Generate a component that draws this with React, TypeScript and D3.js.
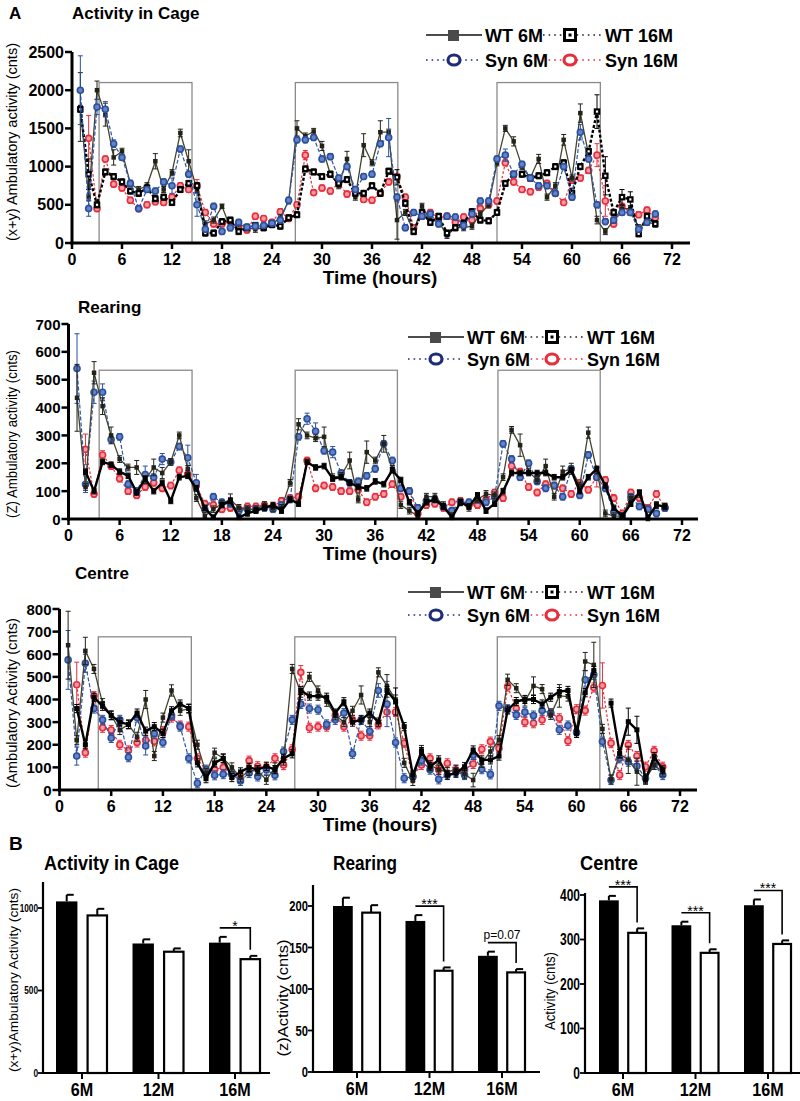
import React from "react";
import * as d3 from "d3";

const FONT = "'Liberation Sans', Arial, Helvetica, sans-serif";
const NARROW = "'Liberation Sans Narrow', 'Liberation Sans', Arial, sans-serif";

const HOURS: number[] = d3.range(1, 71);
const X_TICKS = [0, 6, 12, 18, 24, 30, 36, 42, 48, 54, 60, 66, 72];
const SERIES_NAMES = ["WT 6M", "WT 16M", "Syn 6M", "Syn 16M"];

type V = number | null;

// ---------- Panel A1: Activity in Cage ----------
const cageWT6: V[] = [1780,600,2000,1680,1120,1200,780,700,750,1070, 700,920,1440,1070,700,250,300,480,200,250, 200,180,200,250,330,550,1500,1400,1460,1270, 900,750,1100,600,1280,1050,1450,1450,300,400, 150,480,300,280,100,200,200,220,380,500, 1050,1500,1330,1000,850,1100,600,750,1350,850, 1700,1150,300,150,300,450,450,200,270,250];
const cageWT16: V[] = [1750,900,500,930,870,800,680,650,720,580, 600,530,700,780,750,130,130,280,300,150, 200,230,200,240,220,330,370,970,930,870, 900,780,830,650,650,750,650,940,860,520, 150,400,270,350,130,200,260,410,300,290, 400,780,900,900,850,880,920,1000,1050,650, 1000,1200,1720,880,400,600,570,120,350,250];
const cageSyn6: V[] = [2000,450,1780,1750,1300,1120,780,450,700,680, 800,750,1230,900,500,180,480,150,200,270, 210,220,230,260,300,560,1350,1350,1380,1100, 1130,850,1000,700,870,900,1300,1380,600,200, 400,350,380,250,350,340,230,380,550,550, 1100,1150,900,1030,850,750,750,650,1000,600, 1450,1100,500,280,300,400,400,180,270,380];
const cageSyn16: V[] = [null,1370,450,1100,770,720,560,450,500,540, 530,600,750,700,750,400,250,250,280,200, 170,350,320,270,410,320,500,1150,660,720, 680,780,640,700,570,560,650,800,870,600, 200,350,400,330,350,270,340,300,450,500, 550,1050,800,700,670,730,780,650,530,820, 850,950,1150,550,250,480,400,370,430,330];
const cageErrWT6: Record<number, number> = {1:450,3:120,4:150,5:100,10:100,13:50,14:150,18:30,27:100,30:60,33:100,35:150,37:150,39:250,53:60,56:60,59:70,61:120,62:80,63:50};
const cageErrWT16: Record<number, number> = {2:200,39:100,63:220,64:250,66:100,67:100};
const cageErrSyn6: Record<number, number> = {1:450,2:100,3:100,4:100,5:50,12:100,15:150,38:250,52:80,61:100};
const cageErrSyn16: Record<number, number> = {2:300,15:80,28:60,63:150,64:200};
const cageBoxes = [[3.25, 14.4], [26.8, 39.1], [51, 63.4]];
const cageBoxTop = 2100;

// ---------- Panel A2: Rearing ----------
const rearWT6: V[] = [435,115,525,405,300,215,185,185,140,185, 165,205,300,180,75,10,35,55,70,40, 35,35,50,40,40,130,340,300,290,295, 150,155,210,70,240,210,270,180,50,30, 10,80,80,50,10,60,40,70,90,85, 150,320,265,170,140,190,80,170,180,120, 310,175,20,10,10,75,90,0,50,45];
const rearWT16: V[] = [null,170,100,205,195,170,155,95,145,100, 130,65,150,155,110,40,5,50,65,5, 20,30,40,50,30,70,55,205,185,190, 145,150,130,115,110,135,125,175,140,60, 20,60,70,45,5,60,45,85,30,55, 100,165,165,165,165,165,150,150,175,100, 150,180,120,40,10,55,95,5,50,45];
const rearSyn6: V[] = [540,125,455,455,285,295,125,100,160,150, 215,205,260,220,130,35,80,60,55,30, 35,35,40,35,50,70,295,360,315,245, 240,165,130,135,155,180,270,210,110,100, 40,65,70,45,30,60,60,70,60,80, 270,215,150,200,135,110,120,80,180,85, 230,150,110,25,10,80,45,35,20,40];
const rearSyn16: V[] = [null,250,90,230,190,145,100,85,115,130, 110,120,175,160,120,55,50,35,40,35, 45,45,50,45,65,75,80,210,110,120, 115,100,100,105,60,80,90,125,80,100, 20,50,55,40,60,65,50,50,70,95, 75,190,170,115,95,125,120,110,90,130, 105,150,140,75,20,95,75,40,90,40];
const rearErrWT6: Record<number, number> = {1:120,3:40,4:30,5:30,8:25,10:30,11:20,19:20,27:20,30:35,33:30,35:40,37:30,53:40,56:25,58:20,59:20,61:20};
const rearErrWT16: Record<number, number> = {};
const rearErrSyn6: Record<number, number> = {1:125,2:30,3:40,4:30,9:30,11:20,14:45,15:30,28:20,29:30,31:20};
const rearErrSyn16: Record<number, number> = {2:55,4:15,62:35};
const rearBoxes = [[3.6, 14.5], [26.6, 38.6], [50.4, 62.4]];
const rearBoxTop = 534;

// ---------- Panel A3: Centre ----------
const centWT6: V[] = [640,220,615,535,384,330,265,290,235,400, 150,320,440,350,360,200,75,165,140,100, 55,85,85,45,100,130,535,430,500,440, 390,330,300,350,420,300,520,460,400,120, 40,177,110,90,80,90,70,44,120,170, 221,487,450,391,460,446,332,416,413,266, 568,553,270,47,159,133,81,47,111,81];
const centWT16: V[] = [null,360,200,410,370,330,300,290,340,260, 280,250,350,380,360,120,50,120,140,55, 80,100,90,105,90,140,160,440,415,415, 410,340,390,300,310,340,300,440,391,280, 66,170,103,133,66,74,103,177,133,133, 150,354,391,400,400,380,410,435,440,250, 430,528,null,384,162,302,266,44,148,89];
const centSyn6: V[] = [575,150,560,360,310,230,310,145,320,195, 250,210,330,280,140,30,90,65,70,70, 40,75,60,90,65,170,310,380,360,355, 290,310,340,160,310,260,440,380,210,52, 60,130,90,47,66,80,66,155,92,69, 372,357,332,344,329,351,340,266,285,254, 487,509,214,44,140,125,106,52,111,66];
const centSyn16: V[] = [null,465,165,415,275,265,200,175,210,220, 215,260,320,285,280,140,85,90,100,70, 50,130,105,100,140,110,180,520,275,280, 280,330,280,310,240,240,290,345,345,207, 59,111,140,89,118,89,89,115,180,214, 184,457,360,300,295,310,340,317,217,357, 351,453,462,207,66,199,150,103,173,103];
const centErrWT6: Record<number, number> = {1:150,3:60,10:40,13:25,27:20,30:20,35:40,37:20,38:50,48:30,52:25,55:40,58:50,61:40,62:100,66:60,67:60};
const centErrWT16: Record<number, number> = {39:60,66:60,67:60};
const centErrSyn6: Record<number, number> = {1:130,2:40,3:40,10:40,37:30,38:100,61:40};
const centErrSyn16: Record<number, number> = {2:100,28:30,63:100};
const centBoxes = [[4.5, 15.3], [27.3, 39.0], [50.8, 62.7]];
const centBoxTop = 677;

// ---------- Panel B ----------
const CATS = ["6M", "12M", "16M"];
const GROUPS = ["WT", "Syn"];
const barCageWT = [1040, 785, 790];
const barCageWTErr = [40, 25, 35];
const barCageSyn = [955, 735, 690];
const barCageSynErr = [40, 20, 20];
const barCageSig: (string | null)[] = [null, null, "*"];
const barRearWT = [200, 182, 140];
const barRearWTErr = [10, 7, 5];
const barRearSyn = [192, 122, 120];
const barRearSynErr = [9, 4, 4];
const barRearSig: (string | null)[] = [null, "***", "p=0.07"];
const barCentWT = [388, 332, 377];
const barCentWTErr = [10, 8, 13];
const barCentSyn = [315, 270, 290];
const barCentSynErr = [10, 8, 8];
const barCentSig: (string | null)[] = ["***", "***", "***"];

type Style = {
  color: string; width: number; dash: string | null;
  marker: "sq" | "sqOpen" | "circ"; fill: string; stroke: string; size: number; sw: number;
};

const ST_WT6: Style = { color: "#45452f", width: 1.3, dash: null, marker: "sq", fill: "#222218", stroke: "#222218", size: 4.5, sw: 0 };
const ST_WT16_DASH: Style = { color: "#000", width: 2.4, dash: "3,2", marker: "sqOpen", fill: "#000", stroke: "#000", size: 6.5, sw: 0 };
const ST_WT16_SOLID: Style = { color: "#000", width: 2.4, dash: null, marker: "sq", fill: "#000", stroke: "#000", size: 5, sw: 0 };
const ST_SYN6: Style = { color: "#2d55a8", width: 1.2, dash: "4,2", marker: "circ", fill: "#6483c6", stroke: "#2a4f9e", size: 3, sw: 1.6 };
const ST_SYN16: Style = { color: "#e62e3c", width: 1.2, dash: "2.5,2", marker: "circ", fill: "#f59aa2", stroke: "#e62e3c", size: 3, sw: 1.6 };

type PanelProps = {
  title: string; titleX: number; titleY: number; letter?: string;
  x0: number; x72: number; axisEnd: number;
  yB: number; yT: number; yMax: number; yStep: number; yTickFont: number;
  yLabel: string; yLabelX: number; yLabelY: number; yLabelLen: number;
  boxes: number[][]; boxTop: number;
  lx: number; ly1: number; ly2: number;
  series: { vals: V[]; errs: Record<number, number>; defErr: number; style: Style }[];
};

function Marker({ cx, cy, s }: { cx: number; cy: number; s: Style }) {
  if (s.marker === "circ") {
    return <circle cx={cx} cy={cy} r={s.size} fill={s.fill} stroke={s.stroke} strokeWidth={s.sw} />;
  }
  if (s.marker === "sqOpen") {
    return (
      <g>
        <rect x={cx - s.size / 2} y={cy - s.size / 2} width={s.size} height={s.size} fill="#000" />
        <rect x={cx - 1.1} y={cy - 1.1} width={2.2} height={2.2} fill="#fff" />
      </g>
    );
  }
  return <rect x={cx - s.size / 2} y={cy - s.size / 2} width={s.size} height={s.size} fill={s.fill} />;
}

function Legend({ lx, ly1, ly2 }: { lx: number; ly1: number; ly2: number }) {
  const tStyle = { fontFamily: FONT, fontWeight: 700, fontSize: 18 } as const;
  const dot = "1.6,4";
  return (
    <g>
      <line x1={lx} x2={lx + 56} y1={ly1} y2={ly1} stroke="#111" strokeWidth={1.6} />
      <rect x={lx + 22} y={ly1 - 5} width={11} height={11} fill="#4a4a4a" />
      <text x={lx + 59} y={ly1 + 6.5} {...tStyle}>{SERIES_NAMES[0]}</text>
      <line x1={lx + 117} x2={lx + 177} y1={ly1} y2={ly1} stroke="#222" strokeWidth={1.6} strokeDasharray={dot} />
      <rect x={lx + 138.5} y={ly1 - 5.5} width={11} height={11} fill="#fff" stroke="#000" strokeWidth={3} />
      <rect x={lx + 142.5} y={ly1 - 1.5} width={3} height={3} fill="#000" />
      <text x={lx + 179} y={ly1 + 6.5} {...tStyle}>{SERIES_NAMES[1]}</text>

      <line x1={lx} x2={lx + 56} y1={ly2} y2={ly2} stroke="#1e2d7a" strokeWidth={1.6} strokeDasharray={dot} />
      <ellipse cx={lx + 28} cy={ly2} rx={6} ry={5} fill="#fff" stroke="#1e2d7a" strokeWidth={3.2} />
      <text x={lx + 59} y={ly2 + 6.5} {...tStyle}>{SERIES_NAMES[2]}</text>
      <line x1={lx + 117} x2={lx + 177} y1={ly2} y2={ly2} stroke="#e62e3c" strokeWidth={1.6} strokeDasharray={dot} />
      <ellipse cx={lx + 144} cy={ly2} rx={6} ry={5} fill="#fff" stroke="#e62e3c" strokeWidth={3.2} />
      <text x={lx + 179} y={ly2 + 6.5} {...tStyle}>{SERIES_NAMES[3]}</text>
    </g>
  );
}

function TimePanel(p: PanelProps) {
  const x = d3.scaleLinear().domain([0, 72]).range([p.x0, p.x72]);
  const y = d3.scaleLinear().domain([0, p.yMax]).range([p.yB, p.yT]);
  const yTicks = d3.range(0, p.yMax + 1, p.yStep);
  const mkLine = d3
    .line<V>()
    .defined((v) => v != null)
    .x((_, i) => x(HOURS[i]))
    .y((v) => y(v as number));
  return (
    <g>
      {p.letter && (
        <text x={9} y={p.titleY} fontFamily={FONT} fontWeight={700} fontSize={17}>{p.letter}</text>
      )}
      <text x={p.titleX} y={p.titleY} fontFamily={FONT} fontWeight={700} fontSize={17}>{p.title}</text>
      {p.boxes.map((b, i) => (
        <rect key={i} x={x(b[0])} y={y(p.boxTop)} width={x(b[1]) - x(b[0])} height={y(0) - y(p.boxTop)} fill="none" stroke="#8a8a8a" strokeWidth={1.3} />
      ))}
      {p.series.map((s, si) => (
        <g key={si}>
          <path d={mkLine(s.vals) || ""} fill="none" stroke={s.style.color} strokeWidth={s.style.width} strokeDasharray={s.style.dash || undefined} strokeLinejoin="round" />
          {s.vals.map((v, i) => {
            if (v == null) return null;
            const h = HOURS[i];
            const e = s.errs[h] ?? s.defErr;
            const cx = x(h);
            const lo = y(Math.max(0, v - e));
            const hi = y(v + e);
            return (
              <g key={i} stroke={s.style.color === "#000" ? "#000" : s.style.stroke} strokeWidth={1}>
                <line x1={cx} x2={cx} y1={lo} y2={hi} />
                <line x1={cx - 2.5} x2={cx + 2.5} y1={hi} y2={hi} />
                <line x1={cx - 2.5} x2={cx + 2.5} y1={lo} y2={lo} />
              </g>
            );
          })}
          {s.vals.map((v, i) =>
            v == null ? null : <Marker key={i} cx={x(HOURS[i])} cy={y(v)} s={s.style} />
          )}
        </g>
      ))}
      {/* axes */}
      <line x1={p.x0} x2={p.x0} y1={y(0) + 1.5} y2={y(p.yMax)} stroke="#000" strokeWidth={3} />
      <line x1={p.x0 - 1.5} x2={p.axisEnd} y1={y(0)} y2={y(0)} stroke="#000" strokeWidth={3} />
      {yTicks.map((t) => (
        <g key={t}>
          <line x1={p.x0 - 7} x2={p.x0} y1={y(t)} y2={y(t)} stroke="#000" strokeWidth={2.5} />
          <text x={p.x0 - 8} y={y(t) + 5.5} textAnchor="end" fontFamily={FONT} fontWeight={700} fontSize={p.yTickFont}>{t}</text>
        </g>
      ))}
      {X_TICKS.map((t) => (
        <g key={t}>
          <line x1={x(t)} x2={x(t)} y1={y(0)} y2={y(0) + 6} stroke="#000" strokeWidth={2.5} />
          <text x={x(t)} y={y(0) + 22} textAnchor="middle" fontFamily={FONT} fontWeight={700} fontSize={16}>{t}</text>
        </g>
      ))}
      <text x={380} y={y(0) + 41} textAnchor="middle" fontFamily={FONT} fontWeight={700} fontSize={19}>Time (hours)</text>
      <text transform={`translate(${p.yLabelX},${p.yLabelY}) rotate(-90)`} textAnchor="middle" dominantBaseline="central" fontFamily={FONT} fontSize={15} textLength={p.yLabelLen} lengthAdjust="spacingAndGlyphs">{p.yLabel}</text>
      <Legend lx={p.lx} ly1={p.ly1} ly2={p.ly2} />
    </g>
  );
}

type BarProps = {
  title: string; titleX: number; titleLen: number; titleY: number; letter?: string;
  axisX: number; axisRight: number; y0: number; yRef: number; yRefPx: number; yTop: number;
  ticks: number[]; tickFont: number;
  c0: number; c1: number; half: number;
  wt: number[]; wtErr: number[]; syn: number[]; synErr: number[]; sig: (string | null)[];
  yLabel: string; yLabelX: number; yLabelY: number; yLabelLen: number; yLabelFont: number;
};

function BarPanel(p: BarProps) {
  const y = d3.scaleLinear().domain([0, p.yRef]).range([p.y0, p.yRefPx]);
  const xc = d3.scalePoint<string>().domain(CATS).range([p.c0, p.c1]);
  const inner = d3.scaleBand<string>().domain(GROUPS).range([-p.half, p.half]).paddingInner(0.3);
  const bw = inner.bandwidth();
  return (
    <g>
      {p.letter && <text x={9} y={p.titleY - 20} fontFamily={FONT} fontWeight={700} fontSize={19}>{p.letter}</text>}
      <text x={p.titleX} y={p.titleY} fontFamily={NARROW} fontWeight={700} fontSize={20} textLength={p.titleLen} lengthAdjust="spacingAndGlyphs">{p.title}</text>
      {CATS.map((c, i) => {
        const cx = xc(c) as number;
        const xw = cx + (inner("WT") as number);
        const xs = cx + (inner("Syn") as number);
        const topW = y(p.wt[i] + p.wtErr[i]);
        const topS = y(p.syn[i] + p.synErr[i]);
        const sig = p.sig[i];
        const by = topW - 9;
        const mW = xw + bw / 2;
        const mS = xs + bw / 2;
        return (
          <g key={c}>
            <line x1={mW} x2={mW} y1={y(p.wt[i])} y2={topW} stroke="#000" strokeWidth={2} />
            <line x1={mW} x2={mW + 7} y1={topW} y2={topW} stroke="#000" strokeWidth={2} />
            <rect x={xw} y={y(p.wt[i])} width={bw} height={p.y0 - y(p.wt[i])} fill="#000" />
            <line x1={mS} x2={mS} y1={y(p.syn[i])} y2={topS} stroke="#000" strokeWidth={2} />
            <line x1={mS} x2={mS + 7} y1={topS} y2={topS} stroke="#000" strokeWidth={2} />
            <rect x={xs + 1} y={y(p.syn[i])} width={bw - 2} height={p.y0 - y(p.syn[i])} fill="#fff" stroke="#000" strokeWidth={2.2} />
            <line x1={cx} x2={cx} y1={p.y0} y2={p.y0 + 6} stroke="#000" strokeWidth={2} />
            <text transform={`translate(${cx},${p.y0 + 23}) scale(0.85,1)`} textAnchor="middle" fontFamily={NARROW} fontWeight={700} fontSize={19}>{c}</text>
            {sig && (
              <g>
                <path d={`M${mW},${by}H${mS}V${topS - 6}`} fill="none" stroke="#000" strokeWidth={1.6} />
                <text x={(mW + mS) / 2} y={sig === "p=0.07" ? by - 4 : by + 3} textAnchor="middle" fontFamily={NARROW} fontSize={sig === "p=0.07" ? 12 : 14}>{sig}</text>
              </g>
            )}
          </g>
        );
      })}
      <line x1={p.axisX} x2={p.axisX} y1={p.y0 + 1} y2={p.yTop} stroke="#000" strokeWidth={2.2} />
      <line x1={p.axisX - 1} x2={p.axisRight} y1={p.y0} y2={p.y0} stroke="#000" strokeWidth={2.2} />
      {p.ticks.map((t) => (
        <g key={t}>
          <line x1={p.axisX - 5} x2={p.axisX} y1={y(t)} y2={y(t)} stroke="#000" strokeWidth={1.8} />
          <text transform={`translate(${p.axisX - 5},${y(t) + p.tickFont * 0.36}) scale(0.75,1)`} textAnchor="end" fontFamily={NARROW} fontWeight={700} fontSize={p.tickFont}>{t}</text>
        </g>
      ))}
      <text transform={`translate(${p.yLabelX},${p.yLabelY}) rotate(-90)`} textAnchor="middle" dominantBaseline="central" fontFamily={NARROW} fontSize={p.yLabelFont} textLength={p.yLabelLen} lengthAdjust="spacingAndGlyphs">{p.yLabel}</text>
    </g>
  );
}

export default function App() {
  return (
    <svg width={800} height={1101} viewBox="0 0 800 1101" style={{ position: "absolute", left: 0, top: 0, background: "#fff" }}>
      <rect width={800} height={1101} fill="#fff" />
      <TimePanel
        letter="A" title="Activity in Cage" titleX={72} titleY={19}
        x0={72} x72={672} axisEnd={690} yB={243} yT={52} yMax={2500} yStep={500} yTickFont={16}
        yLabel="(x+y) Ambulatory activity (cnts)" yLabelX={11} yLabelY={142} yLabelLen={198}
        boxes={cageBoxes} boxTop={cageBoxTop} lx={426} ly1={35} ly2={60}
        series={[
          { vals: cageSyn16, errs: cageErrSyn16, defErr: 40, style: ST_SYN16 },
          { vals: cageWT6, errs: cageErrWT6, defErr: 40, style: ST_WT6 },
          { vals: cageWT16, errs: cageErrWT16, defErr: 40, style: ST_WT16_DASH },
          { vals: cageSyn6, errs: cageErrSyn6, defErr: 40, style: ST_SYN6 },
        ]}
      />
      <TimePanel
        title="Rearing" titleX={78} titleY={313}
        x0={68.5} x72={682} axisEnd={698} yB={519} yT={324} yMax={700} yStep={100} yTickFont={15}
        yLabel="(Z) Ambulatory activity (cnts)" yLabelX={11} yLabelY={434} yLabelLen={168}
        boxes={rearBoxes} boxTop={rearBoxTop} lx={408} ly1={337} ly2={359}
        series={[
          { vals: rearSyn16, errs: rearErrSyn16, defErr: 12, style: ST_SYN16 },
          { vals: rearSyn6, errs: rearErrSyn6, defErr: 12, style: ST_SYN6 },
          { vals: rearWT6, errs: rearErrWT6, defErr: 12, style: ST_WT6 },
          { vals: rearWT16, errs: rearErrWT16, defErr: 10, style: ST_WT16_SOLID },
        ]}
      />
      <TimePanel
        title="Centre" titleX={75} titleY={579}
        x0={59.5} x72={680} axisEnd={697} yB={790} yT={609} yMax={800} yStep={100} yTickFont={15}
        yLabel="(Ambulatory Activity (cnts)" yLabelX={11} yLabelY={703} yLabelLen={170}
        boxes={centBoxes} boxTop={centBoxTop} lx={408} ly1={592} ly2={615}
        series={[
          { vals: centSyn16, errs: centErrSyn16, defErr: 20, style: ST_SYN16 },
          { vals: centSyn6, errs: centErrSyn6, defErr: 20, style: ST_SYN6 },
          { vals: centWT6, errs: centErrWT6, defErr: 20, style: ST_WT6 },
          { vals: centWT16, errs: centErrWT16, defErr: 18, style: ST_WT16_SOLID },
        ]}
      />
      <BarPanel
        letter="B" title="Activity in Cage" titleX={44} titleLen={135} titleY={870}
        axisX={43} axisRight={270} y0={1073} yRef={1000} yRefPx={908} yTop={882}
        ticks={[0, 500, 1000]} tickFont={11} c0={82} c1={235} half={26}
        wt={barCageWT} wtErr={barCageWTErr} syn={barCageSyn} synErr={barCageSynErr} sig={barCageSig}
        yLabel="(x+y)Ambulatory Activity (cnts)" yLabelX={13} yLabelY={980} yLabelLen={184} yLabelFont={13}
      />
      <BarPanel
        title="Rearing" titleX={333} titleLen={64} titleY={870}
        axisX={313} axisRight={540} y0={1072} yRef={200} yRefPx={906} yTop={885}
        ticks={[0, 50, 100, 150, 200]} tickFont={15} c0={357} c1={502} half={24}
        wt={barRearWT} wtErr={barRearWTErr} syn={barRearSyn} synErr={barRearSynErr} sig={barRearSig}
        yLabel="(z)Activity (cnts)" yLabelX={283} yLabelY={998} yLabelLen={117} yLabelFont={14}
      />
      <BarPanel
        title="Centre" titleX={580} titleLen={58} titleY={870}
        axisX={585} axisRight={800} y0={1073} yRef={400} yRefPx={895} yTop={893}
        ticks={[0, 100, 200, 300, 400]} tickFont={16} c0={623} c1={768} half={24}
        wt={barCentWT} wtErr={barCentWTErr} syn={barCentSyn} synErr={barCentSynErr} sig={barCentSig}
        yLabel="Activity (cnts)" yLabelX={550} yLabelY={991} yLabelLen={78} yLabelFont={14}
      />
    </svg>
  );
}
